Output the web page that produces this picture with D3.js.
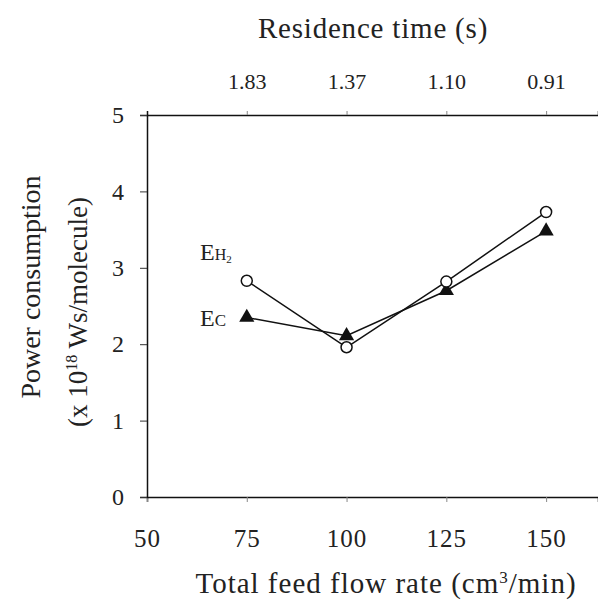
<!DOCTYPE html>
<html>
<head>
<meta charset="utf-8">
<script src="https://cdn.jsdelivr.net/npm/d3@7"></script>
<style>
  body { margin: 0; background: #fff; }
  text { font-family: "Liberation Serif", "DejaVu Serif", serif; fill: #222; }
</style>
</head>
<body>
<div id="plt"></div>
<script>
// data
var flowRates = [75, 100, 125, 150];
var residenceLabels = ["1.83", "1.37", "1.10", "0.91"];
var eH2 = [2.83, 1.96, 2.82, 3.73];
var eC = [2.35, 2.11, 2.70, 3.48];
var yTicks = [0, 1, 2, 3, 4, 5];
var xTicks = [50, 75, 100, 125, 150];

var width = 598, height = 603;
var margin = {top: 115, right: 0, bottom: 106, left: 147};

var svg = d3.select("#plt")
            .append("svg")
            .attr("width", width)
            .attr("height", height);

var x = d3.scaleLinear()
          .domain([50, 163])
          .range([margin.left, width]);

var y = d3.scaleLinear()
          .domain([0, 5])
          .range([height - margin.bottom, margin.top]);

// bottom axis
var xAxis = svg.append("g")
   .attr("transform", "translate(0," + y(0) + ")")
   .call(d3.axisBottom(x).tickValues(xTicks).tickSize(5).tickPadding(27));
xAxis.select(".domain").attr("stroke", "#111").attr("stroke-width", 1.5);
xAxis.selectAll(".tick line").attr("stroke", "#888");
xAxis.selectAll("text").style("font-size", "25px").style("letter-spacing", "1px");

// top axis (residence time)
var topAxis = svg.append("g")
   .attr("transform", "translate(0," + y(5) + ")")
   .call(d3.axisTop(x).tickValues(flowRates).tickSize(4).tickPadding(22)
           .tickFormat(function(d, i) { return residenceLabels[i]; }));
topAxis.select(".domain").attr("stroke", "#111").attr("stroke-width", 1.5);
topAxis.selectAll(".tick line").attr("stroke", "#888");
topAxis.selectAll("text").style("font-size", "22px");

// left axis
var yAxis = svg.append("g")
   .attr("transform", "translate(" + x(50) + ",0)")
   .call(d3.axisLeft(y).tickValues(yTicks).tickSize(7).tickPadding(16)
           .tickFormat(d3.format("d")));
yAxis.select(".domain").attr("stroke", "#111").attr("stroke-width", 1.5);
yAxis.selectAll(".tick line").attr("stroke", "#333");
yAxis.selectAll("text").style("font-size", "24px");

// lines
var line = d3.line()
             .x(function(d) { return x(d[0]); })
             .y(function(d) { return y(d[1]); });

var h2Pts = flowRates.map(function(f, i) { return [f, eH2[i]]; });
var cPts = flowRates.map(function(f, i) { return [f, eC[i]]; });

svg.append("path").datum(h2Pts)
   .attr("d", line).attr("fill", "none").attr("stroke", "#111").attr("stroke-width", 1.5);
svg.append("path").datum(cPts)
   .attr("d", line).attr("fill", "none").attr("stroke", "#111").attr("stroke-width", 1.5);

// markers
svg.selectAll("tri")
   .data(cPts)
   .enter()
   .append("path")
   .attr("d", d3.symbol().type(d3.symbolTriangle).size(100))
   .attr("transform", function(d) { return "translate(" + x(d[0]) + "," + y(d[1]) + ")"; })
   .attr("fill", "#111");

svg.selectAll("circ")
   .data(h2Pts)
   .enter()
   .append("circle")
   .attr("cx", function(d) { return x(d[0]); })
   .attr("cy", function(d) { return y(d[1]); })
   .attr("r", 5.5)
   .attr("fill", "#fff")
   .attr("stroke", "#111")
   .attr("stroke-width", 1.5);

// series labels
var lab1 = svg.append("text").attr("x", 200).attr("y", 260).style("font-size", "24px");
lab1.append("tspan").text("E");
lab1.append("tspan").attr("font-size", "16px").text("H");
lab1.append("tspan").attr("font-size", "11px").attr("dy", 3).text("2");

var lab2 = svg.append("text").attr("x", 200).attr("y", 326).style("font-size", "24px");
lab2.append("tspan").text("E");
lab2.append("tspan").attr("font-size", "17px").text("C");

// axis titles
svg.append("text")
   .attr("x", 373).attr("y", 38)
   .attr("text-anchor", "middle")
   .style("font-size", "29px")
   .style("letter-spacing", "0.8px")
   .text("Residence time (s)");

var xt = svg.append("text")
   .attr("x", 386).attr("y", 593)
   .attr("text-anchor", "middle")
   .style("font-size", "29px")
   .style("letter-spacing", "1px");
xt.append("tspan").text("Total feed flow rate (cm");
xt.append("tspan").attr("font-size", "17px").attr("dy", -10).text("3");
xt.append("tspan").attr("dy", 10).text("/min)");

svg.append("text")
   .attr("transform", "translate(40,287) rotate(-90)")
   .attr("text-anchor", "middle")
   .style("font-size", "28px")
   .text("Power consumption");

var yt = svg.append("text")
   .attr("transform", "translate(87,312) rotate(-90)")
   .attr("text-anchor", "middle")
   .style("font-size", "27px");
yt.append("tspan").text("(x 10");
yt.append("tspan").attr("font-size", "16px").attr("dy", -10).text("18");
yt.append("tspan").attr("dy", 10).text(" Ws/molecule)");
</script>
</body>
</html>
